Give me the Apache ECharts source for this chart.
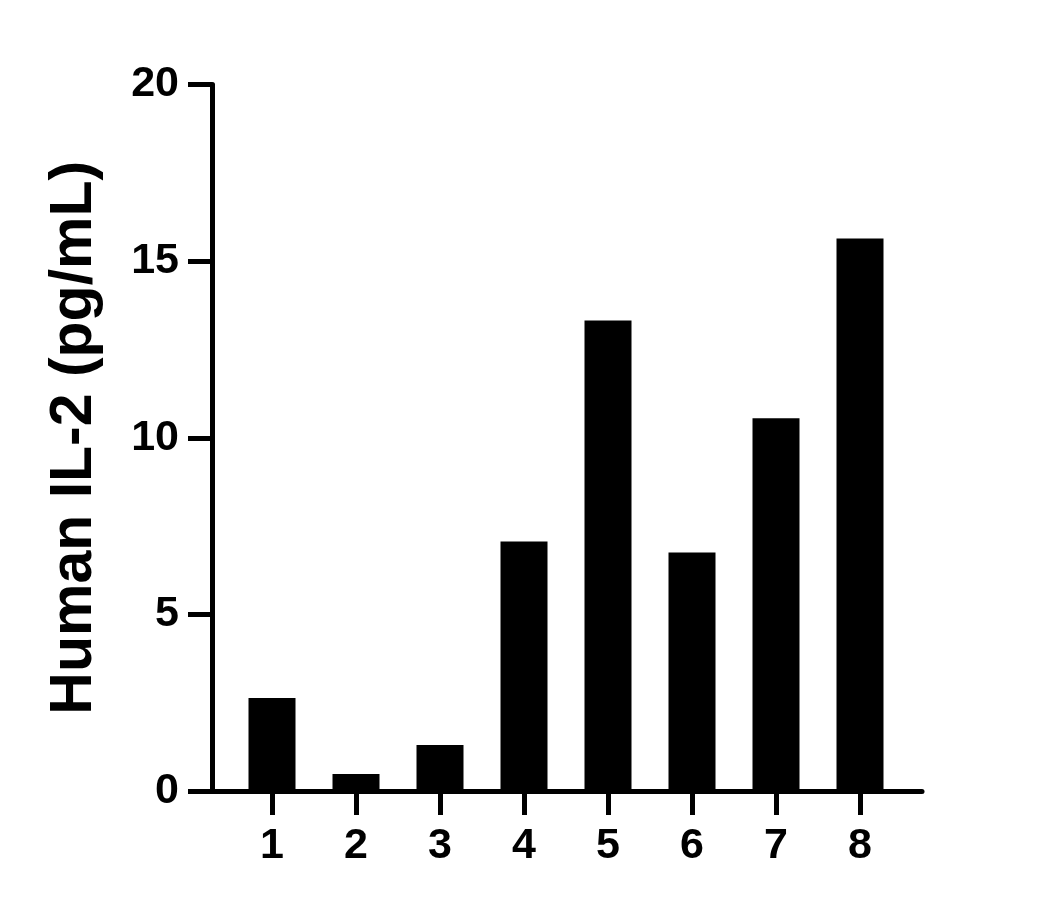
<!DOCTYPE html>
<html>
<head>
<meta charset="utf-8">
<script src="https://cdn.jsdelivr.net/npm/echarts@6/dist/echarts.min.js"></script>
<style>html,body{margin:0;padding:0;background:#fff;}#c{width:1054px;height:909px;}</style>
</head>
<body>
<div id="c"></div>
<script>
const categories = ['1', '2', '3', '4', '5', '6', '7', '8'];
const values = [2.63, 0.48, 1.30, 7.06, 13.32, 6.75, 10.55, 15.64];
const yTitle = 'Human IL-2 (pg/mL)';
const yMin = 0, yMax = 20, yInterval = 5;

const FONT = '"Liberation Sans", Arial, Helvetica, sans-serif';
const chart = echarts.init(document.getElementById('c'), null, {renderer: 'canvas'});
chart.setOption({
  animation: false,
  backgroundColor: '#fff',
  grid: [
    {left: 212, right: 132, top: 84.5, bottom: 118},
    {left: 230, right: 152, top: 84.5, bottom: 118}
  ],
  xAxis: [
    {
      type: 'value', gridIndex: 0, min: 0, max: 1,
      axisLine: {show: true, onZero: false, lineStyle: {color: '#000', width: 5}},
      axisTick: {show: false}, axisLabel: {show: false}, splitLine: {show: false}
    },
    {
      type: 'category', gridIndex: 1, data: categories,
      axisLine: {show: false},
      axisTick: {show: true, alignWithLabel: true, length: 24, lineStyle: {color: '#000', width: 5}},
      axisLabel: {color: '#000', fontFamily: FONT, fontWeight: 'bold', fontSize: 43, margin: 34},
      splitLine: {show: false}
    }
  ],
  yAxis: [
    {
      type: 'value', gridIndex: 0, min: yMin, max: yMax, interval: yInterval,
      name: yTitle, nameLocation: 'middle', nameRotate: 90, nameGap: 108,
      nameTextStyle: {color: '#000', fontFamily: FONT, fontWeight: 'bold', fontSize: 59},
      axisLine: {show: true, lineStyle: {color: '#000', width: 5}},
      axisTick: {show: true, length: 24, lineStyle: {color: '#000', width: 5}},
      axisLabel: {color: '#000', fontFamily: FONT, fontWeight: 'bold', fontSize: 43, margin: 33},
      splitLine: {show: false}
    },
    {
      type: 'value', gridIndex: 1, min: yMin, max: yMax, interval: yInterval,
      show: false
    }
  ],
  series: [{
    type: 'bar', xAxisIndex: 1, yAxisIndex: 1,
    data: values, barWidth: 47,
    itemStyle: {color: '#000'}
  }]
});
</script>
</body>
</html>
